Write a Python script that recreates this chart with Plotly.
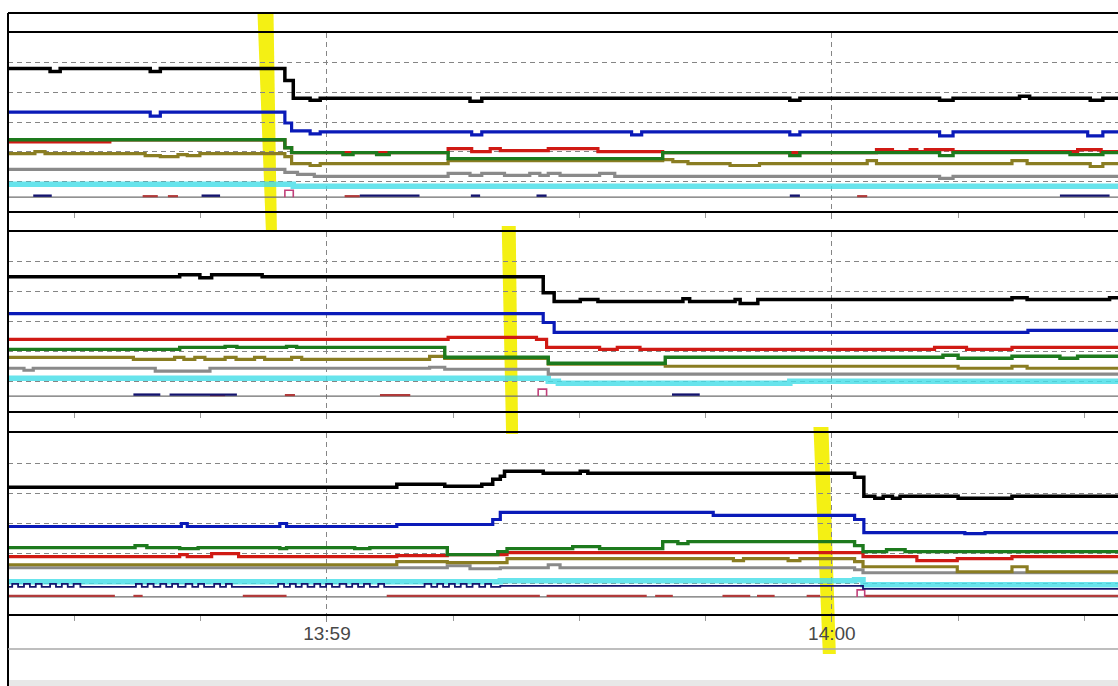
import datetime as dt
import plotly.graph_objects as go

W, H = 1118, 686
BASE = dt.datetime(2024, 1, 1, 13, 59, 0)   # 13:59:00
T_MIN, T_MAX = -37.9, 94.0                   # visible window, seconds from 13:59:00
END = 94.5

# ---------------- data: (seconds from 13:59:00, value) step points ----------------
# Panel 1
p1_black = [(-38, 144), (-32.9, 141), (-31.7, 144), (-21.0, 141), (-19.8, 144), (-5.0, 132), (-4.0, 114),
            (-2.0, 112), (-0.8, 114), (17.0, 111), (18.4, 114), (55.0, 112), (56.2, 114), (72.8, 112),
            (74.4, 114), (82.3, 116), (83.5, 114), (90.7, 112), (92.2, 114), (END, 114)]
p1_blue = [(-38, 100), (-21.0, 96), (-19.8, 100), (-5.0, 89), (-4.2, 81), (-2.0, 78), (-0.8, 80), (17.2, 77),
           (18.4, 80), (36.2, 77), (37.4, 80), (55.0, 77), (56.2, 80), (72.8, 76), (74.4, 80), (90.4, 76),
           (92.2, 80), (END, 80)]
p1_red = [(-38, 70), (-25.8, 72), (-5.0, 64), (-4.2, 59), (14.4, 63), (17.2, 60), (19.4, 63), (20.6, 61),
          (26.3, 63), (32.2, 60), (39.9, 59), (65.3, 62), (67.2, 60), (69.3, 62), (70.1, 60), (71.1, 62),
          (74.4, 60), (89.2, 62), (92.0, 60), (END, 60)]
p1_green = [(-38, 72), (-5.0, 64), (-4.2, 59), (1.9, 57), (3.1, 59), (5.9, 57), (7.4, 59), (14.4, 53),
            (39.9, 59), (55.0, 56), (56.2, 59), (72.8, 56), (74.4, 59), (88.3, 57), (92.2, 59), (END, 59)]
p1_olive = [(-38, 58), (-34.7, 60), (-33.5, 58), (-21.6, 56), (-19.8, 55), (-17.7, 57), (-16.6, 56),
            (-15.1, 58), (-5.0, 55), (-4.2, 48), (-2.0, 46), (-0.8, 48), (14.4, 51), (39.9, 52), (41.1, 50),
            (42.9, 48), (47.9, 46), (51.4, 48), (64.2, 51), (65.3, 48), (81.4, 51), (83.2, 48), (90.7, 45),
            (92.2, 48), (END, 48)]
p1_gray = [(-38, 42), (-5.0, 39), (-3.5, 37), (-1.5, 35), (14.4, 38), (17.0, 36), (18.4, 38), (21.1, 36),
           (24.1, 38), (25.3, 36), (26.3, 38), (27.7, 36), (32.4, 38), (34.2, 35), (72.8, 33), (74.4, 35),
           (END, 35)]
p1_cyan = [(-38, 27), (-4.0, 25), (END, 25)]
p1_base = [(-38, 14), (END, 14)]
p1_navy_bits = [(-34.9, -32.7), (-14.9, -12.7), (3.9, 11.0), (17.1, 18.2), (24.9, 26.1), (55.0, 56.2), (87.1, 93.0)]
p1_red_bits = [(-21.9, -20.1), (-18.9, -17.7), (2.1, 3.9), (63.0, 64.2)]
p1_pulse = (-5.0, -4.0)

# Panel 2
p2_black = [(-38, 135), (-17.5, 137), (-15.1, 134), (-13.7, 137), (-7.7, 135), (25.7, 119), (27.0, 110),
            (30.1, 112), (32.2, 110), (42.3, 113), (43.1, 110), (48.5, 112), (49.1, 108), (51.2, 112),
            (81.4, 114), (83.2, 112), (93.0, 114), (END, 114)]
p2_blue = [(-38, 98), (25.7, 89), (27.0, 79), (83.3, 81), (END, 81)]
p2_red = [(-38, 72), (14.4, 74), (24.9, 72), (26.1, 64), (32.4, 62), (34.5, 64), (37.2, 62), (72.2, 64),
          (76.0, 62), (81.4, 64), (END, 64)]
p2_green = [(-38, 62), (-17.5, 64), (-12.1, 65), (-10.7, 64), (-4.8, 65), (-3.6, 64), (14.0, 54), (26.3, 48),
            (40.2, 54), (73.2, 56), (75.0, 53), (81.4, 55), (87.1, 53), (89.2, 55), (END, 55)]
p2_olive = [(-38, 54), (-23.0, 52), (-18.1, 54), (-17.0, 52), (-15.7, 54), (-14.5, 52), (-12.1, 54),
            (-10.8, 52), (-8.6, 54), (-7.4, 52), (-4.2, 54), (-3.0, 52), (12.2, 55), (14.0, 53), (26.3, 47),
            (40.2, 45), (75.0, 43), (81.4, 45), (83.2, 43), (END, 43)]
p2_gray = [(-38, 43), (-36.0, 41), (-34.9, 43), (-20.4, 40), (-13.9, 43), (12.2, 44), (14.0, 42), (26.3, 37),
           (END, 38)]
p2_cyan = [(-38, 33), (26.3, 30), (27.5, 28), (55.0, 30), (END, 30)]
p2_base = [(-38, 15), (END, 15)]
p2_navy_bits = [(-23.0, -19.8), (-18.7, -10.7), (41.0, 44.3)]
p2_red_bits = [(-13.9, -12.1), (-5.0, -3.8), (6.3, 9.9)]
p2_pulse = (25.1, 26.1)

# Panel 3
p3_black = [(-38, 126), (8.3, 129), (14.0, 127), (18.4, 129), (19.7, 134), (20.6, 137), (21.1, 142),
            (25.7, 140), (30.1, 142), (31.0, 140), (62.7, 136), (63.8, 117), (65.1, 115), (66.1, 117),
            (67.2, 115), (68.1, 117), (75.0, 115), (81.4, 117), (END, 117)]
p3_blue = [(-38, 87), (-17.3, 90), (-16.6, 87), (-5.6, 90), (-4.8, 87), (8.3, 89), (19.7, 94), (20.6, 101),
           (45.9, 98), (62.7, 94), (63.8, 81), (75.8, 80), (78.2, 81), (END, 81)]
p3_red = [(-38, 57), (-17.5, 59), (-16.6, 57), (-13.7, 60), (-10.5, 57), (8.3, 58), (14.3, 59), (21.4, 61),
          (62.7, 61), (63.7, 57), (70.1, 53), (74.9, 55), (81.4, 57), (END, 57)]
p3_green = [(-38, 66), (-22.8, 68), (-21.4, 66), (-17.5, 65), (-15.3, 66), (-5.6, 65), (-4.8, 66), (3.3, 65),
            (5.1, 66), (14.3, 59), (20.3, 62), (21.4, 65), (29.2, 67), (32.4, 65), (39.9, 72), (41.7, 70),
            (42.9, 72), (62.7, 68), (63.7, 62), (66.5, 64), (68.7, 62), (END, 62)]
p3_olive = [(-38, 49), (8.3, 52), (14.3, 51), (21.4, 55), (48.3, 53), (49.5, 55), (54.8, 53), (56.2, 55),
            (62.7, 52), (63.7, 47), (74.9, 42), (81.4, 47), (83.2, 42), (END, 42)]
p3_gray = [(-38, 46), (14.3, 48), (17.0, 45), (20.6, 46), (26.3, 49), (27.7, 46), (62.7, 44), (63.7, 41),
           (END, 41)]
p3_cyan = [(-38, 32), (20.6, 33), (62.7, 34), (63.7, 29), (END, 29)]
p3_navy_pulses = [(-37.4, -36.7), (-36.0, -35.3), (-34.6, -33.9), (-32.9, -32.2), (-31.5, -30.8),
                  (-30.1, -29.3), (-22.7, -22.0), (-21.3, -20.6), (-19.8, -19.1), (-18.4, -17.7),
                  (-16.8, -16.0), (-15.3, -14.6), (-13.4, -12.7), (-12.0, -11.3), (-5.8, -5.1),
                  (-4.4, -3.7), (-3.0, -2.3), (-1.5, -0.8), (-0.1, 0.6), (1.5, 2.3), (3.0, 3.7),
                  (4.4, 5.1), (6.1, 6.8), (11.6, 12.4), (13.1, 13.8), (14.5, 15.2), (15.9, 16.6),
                  (17.3, 18.1), (18.8, 19.5)]
p3_navy_tail = [(20.6, 28), (63.7, 25), (END, 25)]
p3_base = [(-38, 17), (END, 17)]
p3_red_bits = [(-37.9, -25.2), (-23.0, -21.9), (-10.0, -4.8), (7.1, 25.3), (26.1, 38.0), (39.0, 41.1),
               (47.0, 50.3), (51.1, 53.2), (57.0, 58.6), (63.9, END)]
p3_pulse = (63.0, 63.9)

# tick labels
TICK_SECONDS = [0, 60]
TICK_TEXT = ["13:59", "14:00"]

# ---------------- colours ----------------
C_BLACK = "#000000"
C_BLUE = "#0a1ab8"
C_RED = "#d01a14"
C_GREEN = "#1d7a1d"
C_OLIVE = "#8a7d22"
C_GRAY = "#8a8a8a"
C_CYAN = "rgba(70,222,232,0.82)"
C_NAVY = "#14146e"
C_BASE = "#6e6e6e"
C_DRED = "#b03a3a"
C_PINK = "#c0407a"
GRID = "#858585"


def T(s):
    return BASE + dt.timedelta(seconds=s)


def step(pts, color, width, ax):
    return go.Scatter(x=[T(s) for s, _ in pts], y=[v for _, v in pts], mode="lines",
                      line=dict(color=color, width=width, shape="hv"),
                      xaxis="x" + ax, yaxis="y" + ax, hoverinfo="skip", showlegend=False)


def bits(segs, value, color, width, ax):
    xs, ys = [], []
    for a, b in segs:
        xs += [T(a), T(b), None]
        ys += [value, value, None]
    return go.Scatter(x=xs, y=ys, mode="lines", line=dict(color=color, width=width),
                      xaxis="x" + ax, yaxis="y" + ax, hoverinfo="skip", showlegend=False)


def pulse(seg, lo, hi, ax):
    a, b = seg
    return go.Scatter(x=[T(a), T(a), T(b), T(b)], y=[lo, hi, hi, lo], mode="lines",
                      line=dict(color=C_PINK, width=1.6), xaxis="x" + ax, yaxis="y" + ax,
                      hoverinfo="skip", showlegend=False)


def pulses_to_points(pls, lo, hi, start):
    pts = [(start, lo)]
    for a, b in pls:
        pts += [(a, hi), (b, lo)]
    return pts


fig = go.Figure()

panels = [
    ("", p1_base, 14, p1_red_bits, p1_navy_bits, p1_pulse, p1_cyan, None, p1_gray, p1_olive, p1_red,
     p1_green, p1_blue, p1_black),
    ("2", p2_base, 15, p2_red_bits, p2_navy_bits, p2_pulse, p2_cyan, None, p2_gray, p2_olive, p2_red,
     p2_green, p2_blue, p2_black),
    ("3", p3_base, 17, p3_red_bits, [], p3_pulse, p3_cyan,
     pulses_to_points(p3_navy_pulses, 27, 30, -38) + p3_navy_tail, p3_gray, p3_olive, p3_red,
     p3_green, p3_blue, p3_black),
]

for (ax, base, bv, rbits, nbits, pl, cyan, navy, gray, olive, red, green, blue, black) in panels:
    fig.add_trace(step(base, C_BASE, 1.4, ax))
    fig.add_trace(bits(rbits, bv + 1, C_DRED, 2.2, ax))
    if nbits:
        fig.add_trace(bits(nbits, bv + 1.5, C_NAVY, 2.4, ax))
    fig.add_trace(pulse(pl, bv, bv + 7, ax))
    fig.add_trace(step(cyan, C_CYAN, 5.5, ax))
    if navy:
        fig.add_trace(step(navy, C_NAVY, 1.8, ax))
    fig.add_trace(step(gray, C_GRAY, 3.2, ax))
    fig.add_trace(step(olive, C_OLIVE, 3.2, ax))
    fig.add_trace(step(red, C_RED, 3.2, ax))
    fig.add_trace(step(green, C_GREEN, 3.4, ax))
    fig.add_trace(step(blue, C_BLUE, 3.2, ax))
    fig.add_trace(step(black, C_BLACK, 3.5, ax))

# ---------------- axes ----------------
x0 = 8 / W
panel_px = [(33, 211), (232, 411), (433, 614)]
axis_ids = ["", "2", "3"]

for i, (ax, (top, bot)) in enumerate(zip(axis_ids, panel_px)):
    last = i == 2
    xa = dict(type="date", range=[T(T_MIN), T(T_MAX)], domain=[x0, 1.0], anchor="y" + ax,
              showline=True, mirror=True, linecolor="black", linewidth=2,
              showgrid=True, gridcolor=GRID, griddash="5px,4px", gridwidth=1,
              tickmode="array", tickvals=[T(s) for s in TICK_SECONDS], ticktext=TICK_TEXT,
              ticks="outside", ticklen=6, tickcolor="#888888", tickwidth=1,
              minor=dict(dtick=15000, tick0=BASE, ticks="outside", ticklen=5, tickcolor="#9a9a9a",
                         showgrid=False),
              showticklabels=last, tickfont=dict(family="Liberation Sans, Arial", size=19, color="#484848"),
              ticklabelstandoff=-5, zeroline=False, fixedrange=True)
    if ax:
        xa["matches"] = "x"
    ya = dict(range=[0, 180], domain=[1 - bot / H, 1 - top / H], anchor="x" + ax,
              tick0=0, dtick=30, showgrid=True, gridcolor=GRID, griddash="5px,4px", gridwidth=1,
              showticklabels=False, ticks="", zeroline=False, showline=False, fixedrange=True)
    fig.layout["xaxis" + ax] = xa
    fig.layout["yaxis" + ax] = ya

# ---------------- decorations ----------------
def sec_to_paper(s):
    return x0 + (s - T_MIN) / (T_MAX - T_MIN) * (1 - x0)

# yellow marker strokes (time at top, time at bottom, top px, bottom px, top width px, bottom width px)
HIGHLIGHTS = [(-7.3, -6.6, 14, 231, 16, 11), (21.6, 22.0, 226, 434, 14, 12), (58.7, 59.7, 427, 654, 15, 13)]
shapes = []
for ta, tb, ytop, ybot, wt, wb in HIGHLIGHTS:
    xa_, xb_ = sec_to_paper(ta), sec_to_paper(tb)
    yt, yb = 1 - ytop / H, 1 - ybot / H
    ht, hb = wt / 2 / W, wb / 2 / W
    path = (f"M {xa_ - ht},{yt} L {xa_ + ht},{yt} L {xb_ + hb},{yb} L {xb_ - hb},{yb} Z")
    shapes.append(dict(type="path", xref="paper", yref="paper", path=path, fillcolor="#f4f014",
                       line=dict(width=0), layer="below"))

shapes += [
    dict(type="line", xref="paper", yref="paper", x0=x0, x1=1, y0=1 - 13 / H, y1=1 - 13 / H,
         line=dict(color="black", width=2)),
    dict(type="line", xref="paper", yref="paper", x0=x0, x1=x0, y0=0, y1=1 - 13 / H,
         line=dict(color="black", width=2)),
    dict(type="line", xref="paper", yref="paper", x0=x0, x1=1, y0=1 - 649 / H, y1=1 - 649 / H,
         line=dict(color="#a8a8a8", width=1.5)),
    dict(type="rect", xref="paper", yref="paper", x0=x0 + 1 / W, x1=1, y0=0, y1=1 - 680 / H,
         fillcolor="#e8e8e8", line=dict(width=0)),
]

fig.update_layout(width=W, height=H, margin=dict(l=0, r=0, t=0, b=0, autoexpand=False),
                  paper_bgcolor="white", plot_bgcolor="rgba(0,0,0,0)", shapes=shapes,
                  showlegend=False, hovermode=False)

fig.write_html("out.html", config={"displayModeBar": False})
